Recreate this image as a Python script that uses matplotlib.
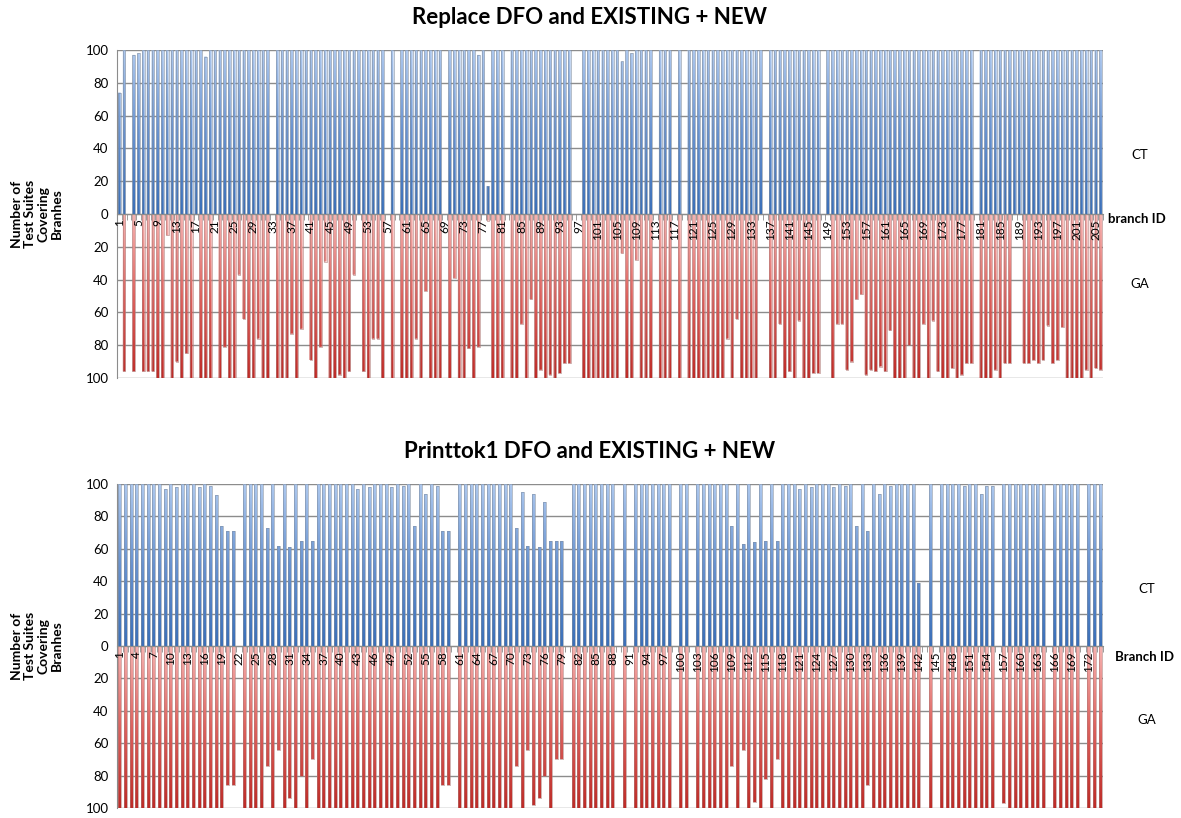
import numpy as np
import matplotlib
matplotlib.use('Agg')
import matplotlib.pyplot as plt
from matplotlib.path import Path
from matplotlib.colors import LinearSegmentedColormap

plt.rcParams['font.family'] = ['Lato', 'DejaVu Sans']

# ---- Replace (206 branches) ----
replace_ids = list(range(1, 207))
replace_ct = [100] * 206
for k, v in {1: 74, 3: 0, 4: 97, 5: 98, 19: 96, 33: 0, 57: 0, 59: 0, 69: 0,
             76: 97, 78: 17, 82: 0, 96: 0, 97: 0, 106: 93, 108: 98, 113: 0,
             117: 0, 119: 0, 136: 0, 148: 0, 180: 0}.items():
    replace_ct[k - 1] = v
replace_ga = [100] * 206
for k, v in {1: 0, 2: 96, 3: 0, 4: 96, 5: 0, 6: 96, 7: 96, 8: 96, 11: 13, 13: 90,
             15: 85, 17: 0, 21: 0, 23: 81, 26: 37, 27: 64, 30: 76, 33: 0, 37: 73,
             39: 70, 40: 0, 41: 89, 43: 81, 44: 29, 47: 98, 49: 96, 50: 37, 51: 0,
             52: 96, 54: 76, 55: 76, 57: 0, 59: 0, 63: 76, 65: 47, 69: 0, 71: 39,
             74: 82, 76: 81, 77: 0, 78: 4, 82: 0, 85: 67, 87: 52, 89: 95, 91: 98,
             93: 97, 94: 91, 95: 91, 96: 0, 97: 0, 106: 24, 109: 28, 113: 0,
             117: 0, 119: 0, 128: 76, 130: 64, 135: 0, 136: 0, 139: 67, 141: 96,
             143: 65, 146: 97, 147: 97, 148: 0, 149: 0, 151: 67, 152: 67, 153: 95,
             154: 90, 155: 52, 156: 49, 157: 98, 158: 95, 159: 96, 160: 93,
             161: 96, 162: 71, 166: 80, 169: 67, 171: 65, 172: 96, 175: 94,
             177: 98, 178: 91, 179: 91, 180: 0, 184: 95, 186: 91, 187: 91,
             188: 0, 189: 0, 190: 91, 191: 91, 192: 89, 193: 91, 194: 89,
             195: 68, 196: 91, 197: 89, 198: 69, 203: 95, 205: 94, 206: 95}.items():
    replace_ga[k - 1] = v

# ---- Printtok1 (174 branches) ----
printtok_ids = list(range(1, 175))
printtok_ct = [100] * 174
for k, v in {9: 97, 11: 98, 15: 98, 17: 99, 18: 93, 19: 74, 20: 71, 21: 71, 22: 0,
             27: 73, 29: 62, 31: 61, 33: 65, 35: 65, 43: 97, 45: 98, 49: 98,
             51: 99, 53: 74, 55: 94, 57: 99, 58: 71, 59: 71, 60: 0, 71: 73,
             72: 95, 73: 62, 74: 94, 75: 61, 76: 89, 77: 65, 78: 65, 79: 65,
             80: 0, 89: 0, 91: 0, 99: 0, 102: 0, 109: 74, 111: 63, 113: 64,
             115: 65, 117: 65, 121: 97, 123: 98, 127: 98, 129: 99, 131: 74,
             133: 71, 135: 94, 137: 99, 142: 39, 143: 0, 145: 0, 150: 99,
             153: 94, 154: 99, 155: 99, 156: 0, 165: 0, 171: 0}.items():
    printtok_ct[k - 1] = v
printtok_ga = [100] * 174
for k, v in {20: 86, 21: 86, 22: 0, 27: 74, 29: 64, 31: 94, 33: 80, 35: 70,
             58: 86, 59: 86, 60: 0, 71: 74, 73: 64, 74: 98, 75: 94, 76: 80,
             78: 70, 79: 70, 80: 0, 89: 0, 91: 0, 99: 0, 102: 0, 109: 74,
             111: 64, 113: 96, 115: 82, 117: 70, 133: 86, 143: 0, 145: 0,
             156: 0, 157: 97, 165: 0, 171: 0}.items():
    printtok_ga[k - 1] = v

W, H = 1181, 818
fig = plt.figure(figsize=(W / 100, H / 100), dpi=100)

blue_cm = LinearSegmentedColormap.from_list('b', ['#3a6fb8', '#6892cf', '#adc8ee'])
red_cm = LinearSegmentedColormap.from_list('r', ['#bd2b27', '#dc625e', '#f6b3b1'])


def gradient_bars(ax, bars, cmap, y0, y1, n):
    # gradient image clipped to the bar outlines (dark at y0, light at y1)
    paths = [b.get_path().transformed(b.get_patch_transform()) for b in bars]
    comp = Path.make_compound_path(*paths)
    grad = np.linspace(0, 1, 256).reshape(-1, 1)
    im = ax.imshow(grad, cmap=cmap, aspect='auto', origin='lower',
                   extent=[0.5, n + 0.5, y0, y1], zorder=2)
    im.set_clip_path(comp, ax.transData)


def panel(rect, ids, ct, ga, step, title, title_y, xname, ct_y, xname_y, ga_y, side_x):
    ax = fig.add_axes(rect)
    n = len(ids)
    x = np.array(ids)
    b1 = ax.bar(x, ct, width=0.55, color='none', edgecolor='#7f8da0', lw=0.4, zorder=3)
    b2 = ax.bar(x, -np.array(ga), width=0.55, color='none', edgecolor='#b07a78', lw=0.4, zorder=3)
    gradient_bars(ax, b1, blue_cm, 0, 100, n)
    gradient_bars(ax, b2, red_cm, -100, 0, n)
    ax.set_xlim(0.5, n + 0.5)
    ax.set_ylim(-100, 100)
    yt = np.arange(-100, 101, 20)
    ax.set_yticks(yt)
    ax.set_yticklabels([str(abs(v)) for v in yt], fontsize=9.5)
    ax.yaxis.grid(True, color='#8c8c8c', lw=1)
    ax.set_axisbelow(True)
    for s in ['top', 'right']:
        ax.spines[s].set_visible(False)
    ax.spines['left'].set_color('#8c8c8c')
    ax.spines['bottom'].set_position(('data', 0))
    ax.spines['bottom'].set_color('#8c8c8c')
    ax.spines['bottom'].set_zorder(4)
    ax.tick_params(axis='y', length=0, pad=6)
    ticks = x[::step]
    ax.set_xticks(ticks)
    ax.set_xticklabels([str(t) for t in ticks], rotation=90, fontsize=8.5)
    ax.set_xticks(np.arange(0.5, n + 1), minor=True)
    ax.tick_params(axis='x', which='major', length=0, pad=4)
    ax.tick_params(axis='x', which='minor', length=4, color='#8c8c8c')
    ax.xaxis.set_zorder(5)

    fig.text(590 / W, 1 - title_y / H, title, fontsize=16, fontweight='bold',
             ha='center', va='center')
    cy = 1 - (rect[1] + rect[3] / 2)
    fig.text(37 / W, 1 - cy, 'Number of\nTest Suites\nCovering\nBranhes',
             rotation=90, fontsize=10, fontweight='bold', ha='center', va='center',
             multialignment='center', linespacing=1.1)
    fig.text(side_x / W, 1 - ct_y / H, 'CT', fontsize=9.5, ha='center', va='center')
    fig.text(side_x / W, 1 - ga_y / H, 'GA', fontsize=9.5, ha='center', va='center')
    fig.text((side_x - 32) / W, 1 - xname_y / H, xname, fontsize=9.5,
             fontweight='bold', ha='left', va='center')
    return ax


panel([117 / W, 1 - 378 / H, 986 / W, 328 / H], replace_ids, replace_ct, replace_ga,
      4, 'Replace DFO and EXISTING + NEW', 18, 'branch ID', 155, 219, 284, 1140)
panel([117 / W, 1 - 808 / H, 986 / W, 324 / H], printtok_ids, printtok_ct, printtok_ga,
      3, 'Printtok1 DFO and EXISTING + NEW', 452, 'Branch ID', 589, 657, 720, 1147)

fig.savefig('out.png', dpi=100)
